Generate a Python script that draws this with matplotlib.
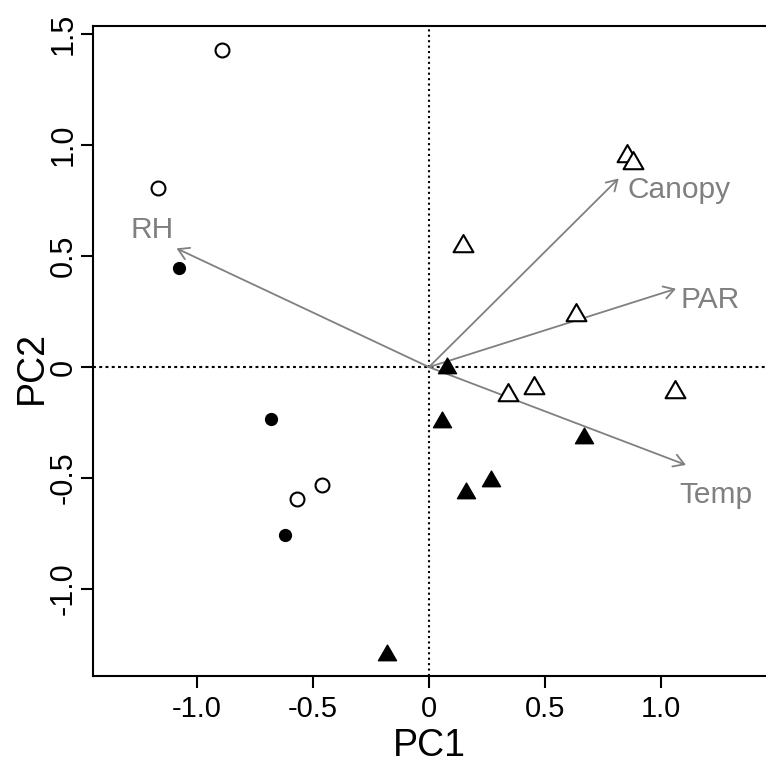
import matplotlib
matplotlib.use('Agg')
import matplotlib.pyplot as plt
from matplotlib.path import Path

plt.rcParams['font.family'] = ['Liberation Sans', 'DejaVu Sans']

# site scores (PC1, PC2) by group
open_circ_x = [-0.892, -1.168, -0.569, -0.462]
open_circ_y = [1.428, 0.806, -0.595, -0.532]
fill_circ_x = [-1.078, -0.682, -0.621]
fill_circ_y = [0.446, -0.233, -0.755]
open_tri_x = [0.852, 0.878, 0.145, 0.632, 0.341, 0.454, 1.062]
open_tri_y = [0.950, 0.920, 0.547, 0.235, -0.126, -0.096, -0.111]
fill_tri_x = [0.076, 0.056, 0.668, 0.267, 0.161, -0.182]
fill_tri_y = [-0.005, -0.246, -0.321, -0.512, -0.569, -1.297]

# environmental loadings
env_names = ['RH', 'Canopy', 'PAR', 'Temp']
env_x = [-1.088, 0.818, 1.065, 1.108]
env_y = [0.535, 0.850, 0.353, -0.441]
lab_x = [-1.195, 1.079, 1.214, 1.237]
lab_y = [0.617, 0.797, 0.302, -0.577]

xticks = [-1.0, -0.5, 0, 0.5, 1.0]
xticklabels = ['-1.0', '-0.5', '0', '0.5', '1.0']
yticks = [-1.0, -0.5, 0, 0.5, 1.0, 1.5]
yticklabels = ['-1.0', '-0.5', '0', '0.5', '1.0', '1.5']

grey = '#808080'
# equilateral triangle centred on its centroid, like R's pch 2 / 17
tri = Path([(0, 1), (-0.866, -0.5), (0.866, -0.5), (0, 1)],
           [Path.MOVETO, Path.LINETO, Path.LINETO, Path.CLOSEPOLY])

W, H = 766, 763
fig = plt.figure(figsize=(W / 100, H / 100), dpi=100)
ax = fig.add_axes([93 / W, 87 / H, 673 / W, 650 / H])

ax.axvline(0, color='black', lw=1.5, ls=(0, (1, 1.6)), zorder=1)
ax.axhline(0, color='black', lw=1.5, ls=(0, (1.4, 1.6)), zorder=1)

for i, name in enumerate(env_names):
    ax.annotate('', xy=(env_x[i], env_y[i]), xytext=(0, 0),
                arrowprops=dict(arrowstyle='->,head_length=0.5,head_width=0.3',
                                color=grey, lw=1.3, shrinkA=0, shrinkB=0,
                                mutation_scale=15), zorder=2)
    ax.text(lab_x[i], lab_y[i], name, color=grey, fontsize=21.5,
            ha='center', va='center', zorder=3)

ax.plot(open_circ_x, open_circ_y, 'o', ms=10, mfc='white', mec='black',
        mew=1.5, ls='none', zorder=4)
ax.plot(fill_circ_x, fill_circ_y, 'o', ms=8.5, mfc='black', mec='black',
        ls='none', zorder=4)
ax.plot(open_tri_x, open_tri_y, marker=tri, ms=16.5, mfc='white', mec='black',
        mew=1.5, ls='none', zorder=4)
ax.plot(fill_tri_x, fill_tri_y, marker=tri, ms=15, mfc='black', mec='black',
        ls='none', zorder=4)

ax.set_xlim(-1.448, 1.453)
ax.set_ylim(-1.392, 1.537)

ax.spines['right'].set_visible(False)
for s in ['left', 'top', 'bottom']:
    ax.spines[s].set_linewidth(1.5)

ax.set_xticks(xticks)
ax.set_xticklabels(xticklabels)
ax.set_yticks(yticks)
ax.set_yticklabels(yticklabels, rotation=90, va='center')
ax.tick_params(direction='out', length=8.5, width=1.5)
ax.tick_params(axis='x', labelsize=21, pad=5)
ax.tick_params(axis='y', labelsize=22, pad=1.5)

# axis titles placed by baseline, as in the original
fig.text(429 / W, 1 - 756 / H, 'PC1', fontsize=27, ha='center',
         va='baseline', rotation_mode='anchor')
fig.text(42 / W, 1 - 367 / H, 'PC2', fontsize=27, ha='center',
         va='baseline', rotation=90, rotation_mode='anchor')

fig.savefig('out.png', dpi=100)
